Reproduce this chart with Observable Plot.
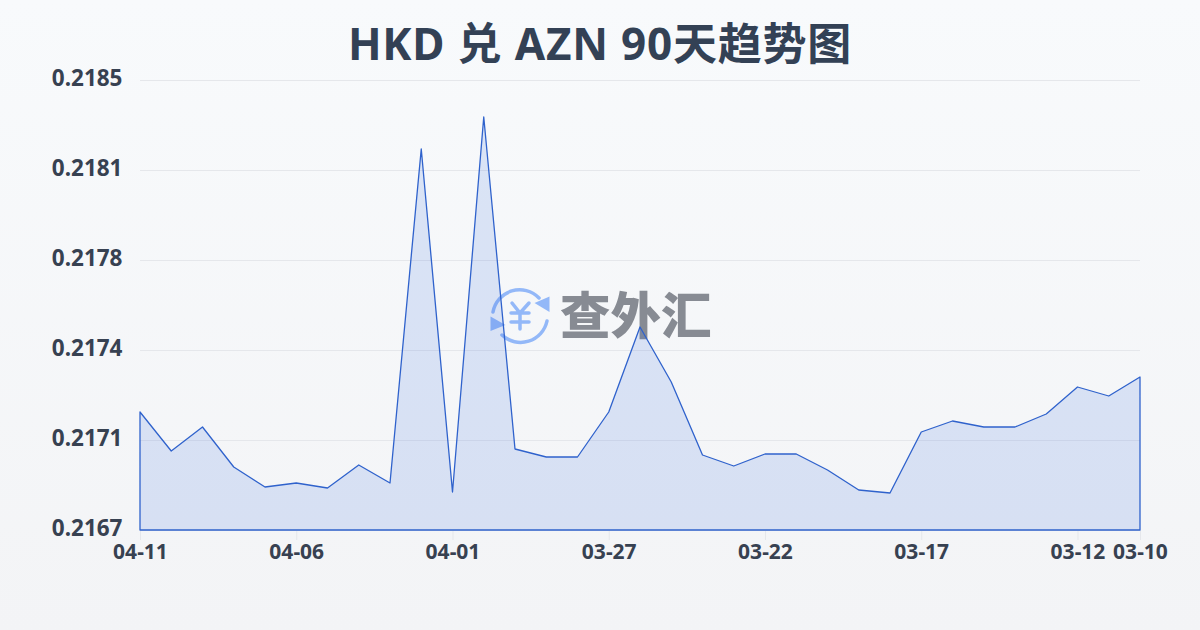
<!DOCTYPE html>
<html lang="zh">
<head>
<meta charset="utf-8">
<script src="https://cdn.jsdelivr.net/npm/d3@7"></script>
<script src="https://cdn.jsdelivr.net/npm/@observablehq/plot@0.6"></script>
<style>
html,body{margin:0;padding:0;width:1200px;height:630px;overflow:hidden}
body{background:linear-gradient(180deg,#f8fafc 0%,#f3f4f6 100%);position:relative;font-family:"Noto Sans","Noto Sans CJK SC",sans-serif}
#title{position:absolute;left:0;top:13px;width:1200px;text-align:center;font:700 44px/60px "Noto Sans","Noto Sans CJK SC",sans-serif;letter-spacing:.8px;color:#334155}
#wm{position:absolute;left:488px;top:284px;width:64px;height:62px}
#wmt{position:absolute;left:560px;top:277px;font:900 50.5px/70px "Noto Sans CJK SC",sans-serif;color:#878b93;white-space:nowrap}
#chart{position:absolute;left:0;top:60px}
#chart svg{background:transparent;overflow:visible}
</style>
</head>
<body>
<div id="title">HKD 兑 AZN 90天趋势图</div>
<svg id="wm" viewBox="488 284 64 62" fill="none" stroke="#93b8f8" stroke-width="3.5" stroke-linecap="round" aria-hidden="true">
  <path d="M493 312A27 27 0 0 1 539 298"/>
  <path d="M547 321A27 27 0 0 1 502 335"/>
  <path d="M549.5 296.5V312L534.5 303Z" fill="#93b8f8" stroke="none"/>
  <path d="M490.5 316.5V331L505.5 325Z" fill="#93b8f8" stroke="none"/>
  <path d="M512 303L520 313L529 303M511 313H529M511 322H529M520 313V329"/>
</svg>
<div id="wmt">查外汇</div>
<div id="chart"></div>
<script>
const dates = ["04-11","04-10","04-09","04-08","04-07","04-06","04-05","04-04","04-03","04-02","04-01",
  "03-31","03-30","03-29","03-28","03-27","03-26","03-25","03-24","03-23","03-22","03-21","03-20",
  "03-19","03-18","03-17","03-16","03-15","03-14","03-13","03-12","03-11","03-10"];
const rates = [0.217172,0.217016,0.217112,0.216952,0.216872,0.216888,0.216868,0.21696,0.216888,0.218224,0.216852,
  0.218352,0.217024,0.216992,0.216992,0.217172,0.217512,0.217292,0.217,0.216956,0.217004,0.217004,0.21694,
  0.21686,0.216848,0.217092,0.217136,0.217112,0.217112,0.217164,0.217272,0.217236,0.217312];
const xTicks = ["04-11","04-06","04-01","03-27","03-22","03-17","03-12","03-10"];
const yTicks = [0.2167,0.21706,0.21742,0.21778,0.21814,0.2185];
const yMin = 0.2167, yMax = 0.2185;

const chart = Plot.plot({
  width: 1200, height: 520,
  marginTop: 20, marginBottom: 50, marginLeft: 140, marginRight: 60,
  style: {background: "transparent", color: "#374151"},
  x: {type: "point", domain: dates, padding: 0, round: false},
  y: {domain: [yMin, yMax]},
  marks: [
    Plot.gridY(yTicks, {stroke: "#e5e7eb", strokeOpacity: 1, strokeWidth: 1}),
    Plot.axisX({ticks: xTicks, tickSize: 10, tickPadding: 4, stroke: "#e5e7eb", strokeOpacity: 1, label: null,
      fontSize: 21, fontWeight: 700, fontFamily: "Noto Sans", fill: "#374151", anchor: "bottom"}),
    Plot.axisY({ticks: yTicks, tickSize: 0, tickPadding: 18, dy: -1.5, tickFormat: d3.format(".4f"), label: null,
      fontSize: 22.5, fontWeight: 700, fontFamily: "Noto Sans", fill: "#374151", anchor: "left"}),
    Plot.areaY(rates, {x: dates, y1: yMin, y2: rates, fill: "#3969de", fillOpacity: 0.15,
      stroke: "#2f62cc", strokeWidth: 1.3, curve: "linear"})
  ]
});
document.getElementById("chart").appendChild(chart);
</script>
</body>
</html>
